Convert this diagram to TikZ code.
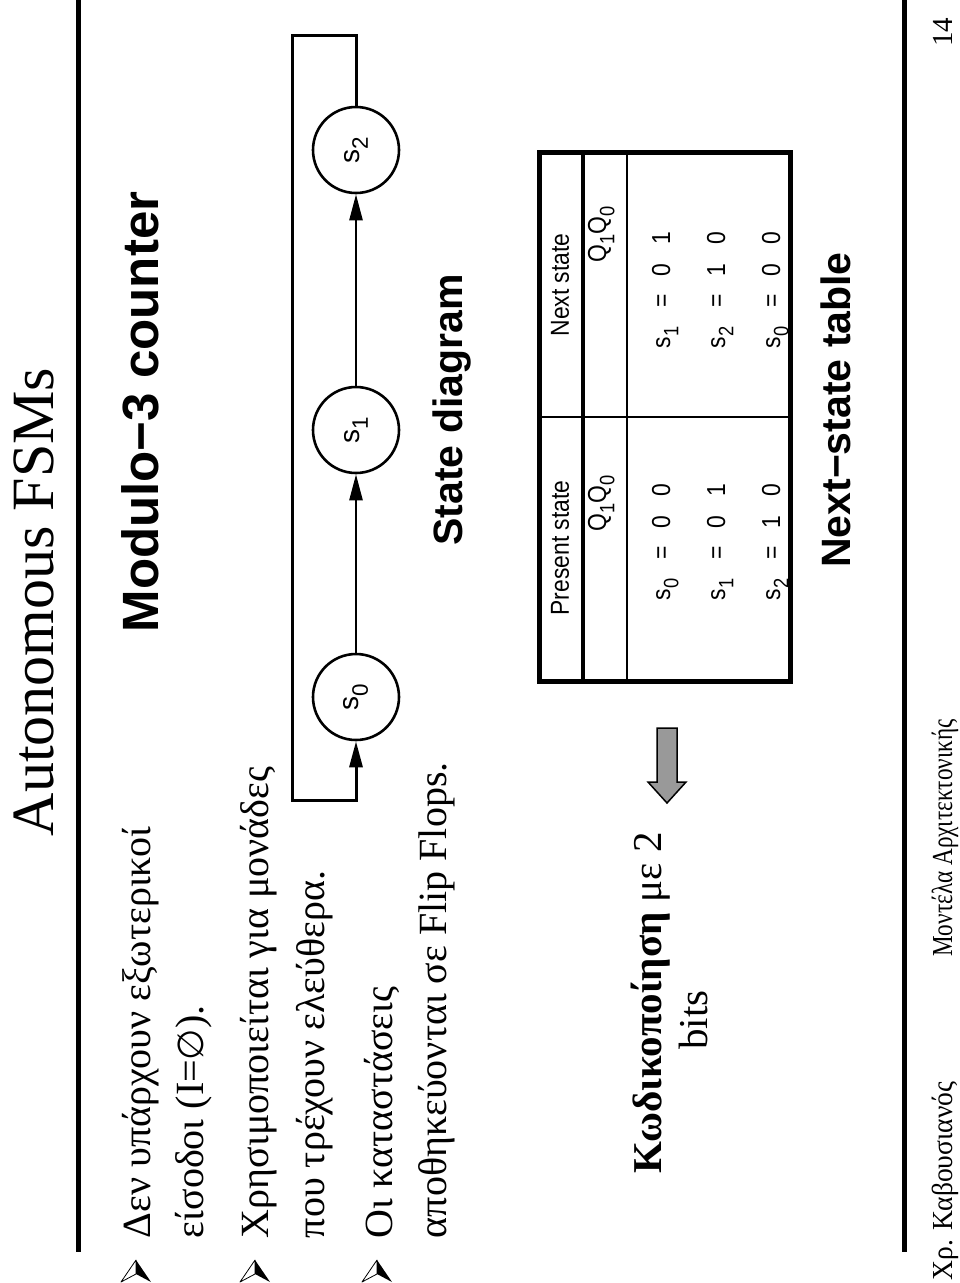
\documentclass[tikz,border=0pt]{standalone}
\usepackage{fontspec}
\usepackage{graphicx}
\setmainfont{Liberation Serif}
\setsansfont{Liberation Sans}
\newfontfamily\symfam{DejaVu Sans}
\usetikzlibrary{arrows.meta}
\newcommand\lowsub[1]{\raisebox{-0.32em}{\scalebox{0.8}{#1}}}
\newcommand\fs[1]{\fontsize{#1}{#1}\selectfont}
\begin{document}
\begin{tikzpicture}[x=1pt, y=-1pt,
  rt/.style={rotate=90, inner sep=0pt, outer sep=0pt},
  bodytxt/.style={rt, anchor=base west, font=\fs{40}},
  headsans/.style={rt, anchor=base, font=\sffamily\bfseries\fs{41}},
  tabtxt/.style={rt, font=\sffamily\fs{26}, xscale=0.88},
  foot/.style={rt, font=\fs{29}},
  rulestyle/.style={line width=5pt},
  state/.style={circle, draw, line width=2.6pt, minimum size=86pt, inner sep=0pt, font=\sffamily\fs{28}},
  arr/.style={line width=2.5pt, -{Triangle[length=26pt,width=13pt]}},
  loopline/.style={line width=3pt},
  thickgrid/.style={line width=5pt},
  midgrid/.style={line width=4pt},
  thingrid/.style={line width=2pt},
  bul/.pic={
    \draw[line width=0.8pt, fill=white, line join=round] (0,-11) -- (-15,11) -- (0,3) -- cycle;
    \fill (0,-11) -- (0,3) -- (15,11) -- cycle;
  }
]
\useasboundingbox (0,0) rectangle (960,1283);

% rules
\draw[rulestyle] (78,0) -- (78,1252);
\draw[rulestyle] (904,0) -- (904,1252);

% title
\node[rt, anchor=base, font=\fs{60}] (title) at (53,602) {Autonomous FSMs};

% bullets
\pic at (136,1271) {bul};
\pic at (255,1271) {bul};
\pic at (377,1271) {bul};
\node[bodytxt] (b1a) at (150,1238) {Δεν υπάρχουν εξωτερικοί};
\node[bodytxt] (b1b) at (203,1238) {είσοδοι (I={\symfam\fs{36}∅}).};
\node[bodytxt] (b2a) at (268,1238) {Χρησιμοποιείται για μονάδες};
\node[bodytxt] (b2b) at (324,1238) {που τρέχουν ελεύθερα.};
\node[bodytxt] (b3a) at (392,1238) {Οι καταστάσεις};
\node[bodytxt] (b3b) at (446,1238) {αποθηκεύονται σε Flip Flops.};

% heading
\node[headsans, font=\sffamily\bfseries\fs{51}] (modulo) at (158,412) {Modulo−3 counter};

% state diagram
\node[state] (s0) at (356,697) {\rotatebox{90}{s\lowsub{0}}};
\node[state] (s1) at (356,430) {\rotatebox{90}{s\lowsub{1}}};
\node[state] (s2) at (356,150) {\rotatebox{90}{s\lowsub{2}}};
\coordinate (lt) at (292,35);
\coordinate (lb) at (292,800);
\draw[arr] (s0) -- (s1);
\draw[arr] (s1) -- (s2);
\draw[loopline, -{Triangle[length=26pt,width=13pt]}] (s2.north) |- (lt) -- (lb) -| (s0.south);
\node[headsans] (sdlabel) at (462,410) {State diagram};

% table
\draw[thickgrid] (539,152) rectangle (790,681);
\draw[midgrid] (583,152) -- (583,681);
\draw[thingrid] (627,152) -- (627,681);
\draw[thingrid] (539,417) -- (790,417);
\node[tabtxt, anchor=center] (ph) at (560,548) {Present state};
\node[tabtxt, anchor=center] (nh) at (560,285) {Next state};
\node[tabtxt, anchor=base west] (pq) at (606,531) {Q\lowsub{1}Q\lowsub{0}};
\node[tabtxt, anchor=base west] (nq) at (606,262) {Q\lowsub{1}Q\lowsub{0}};
\node[tabtxt, anchor=base west] (p0) at (670,600) {s\lowsub{0}\hspace{21pt}=\hspace{21pt}0\hspace{21pt}0};
\node[tabtxt, anchor=base west] (p1) at (725,600) {s\lowsub{1}\hspace{21pt}=\hspace{21pt}0\hspace{21pt}1};
\node[tabtxt, anchor=base west] (p2) at (780,600) {s\lowsub{2}\hspace{21pt}=\hspace{21pt}1\hspace{21pt}0};
\node[tabtxt, anchor=base west] (n0) at (670,348) {s\lowsub{1}\hspace{21pt}=\hspace{21pt}0\hspace{21pt}1};
\node[tabtxt, anchor=base west] (n1) at (725,348) {s\lowsub{2}\hspace{21pt}=\hspace{21pt}1\hspace{21pt}0};
\node[tabtxt, anchor=base west] (n2) at (780,348) {s\lowsub{0}\hspace{21pt}=\hspace{21pt}0\hspace{21pt}0};
\node[headsans] (ntlabel) at (850,410) {Next−state table};

% encoding note and block arrow
\node[rt, anchor=base, font=\fs{41}] (enc1) at (661,1003) {\textbf{Κωδικοποίηση} με 2};
\node[rt, anchor=base, font=\fs{41}] (enc2) at (707,1020) {bits};
\draw[line width=1.5pt, fill=black!40, line join=miter] (657,728) -- (677,728) -- (677,782) -- (686,782) -- (667,803) -- (648,782) -- (657,782) -- cycle;

% footer
\node[foot, anchor=base west, xscale=0.95] (f1) at (952,1280) {Χρ. Καβουσιανός};
\node[foot, anchor=base, xscale=0.8] (f2) at (952,838) {Μοντέλα Αρχιτεκτονικής};
\node[foot, anchor=base] (f3) at (952,32) {14};
\end{tikzpicture}
\end{document}
